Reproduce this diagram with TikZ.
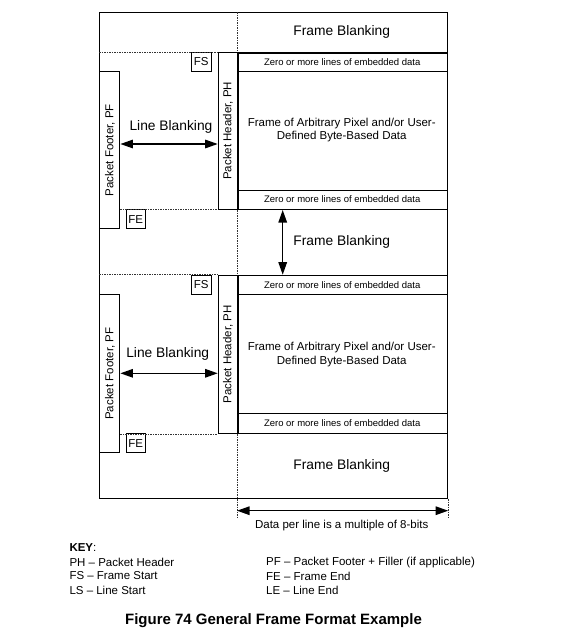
\documentclass[tikz,border=0pt]{standalone}
\usepackage{fontspec}
\setmainfont{Liberation Sans}
\usetikzlibrary{arrows.meta}
\begin{document}
\begin{tikzpicture}[x=1pt,y=-1pt,
  box/.style={draw, rectangle, inner sep=0pt, anchor=north west, line width=0.9pt},
  thickbox/.style={box, line width=1.5pt},
  embbox/.style={box, line width=0.7pt, font=\fontsize{9.5}{11}\selectfont},
  tagbox/.style={box, font=\fontsize{11.5}{13}\selectfont},
  big/.style={font=\fontsize{13.8}{16}\selectfont, inner sep=0pt},
  mid/.style={font=\fontsize{11.5}{13.4}\selectfont, align=center, inner sep=0pt},
  vlabel/.style={rotate=90, font=\fontsize{11.5}{13}\selectfont, inner sep=0pt},
  dashline/.style={line width=0.6pt, dash pattern=on 1.5pt off 1pt, black!80},
  dimarrow/.style={line width=1.3pt, {Triangle[length=12.5pt,width=8.5pt]}-{Triangle[length=12.5pt,width=8.5pt]}},
  keytext/.style={anchor=west, font=\fontsize{11.5}{13}\selectfont, inner sep=0pt}
]
\useasboundingbox (0,0) rectangle (572,638);

% outer frame
\node[box, minimum width=348pt, minimum height=486pt] (outer) at (99.3,12.3) {};
\node[big] (fbtop) at (341.7,32) {Frame Blanking};

% ---------- block 1 ----------
\node[embbox, minimum width=209.7pt, minimum height=19pt] (emb1a) at (237,52) {Zero or more lines of embedded data};
\node[embbox, minimum width=209.7pt, minimum height=19pt] (emb1b) at (237,189.5) {Zero or more lines of embedded data};
\node[thickbox, minimum width=209.7pt, minimum height=156.5pt] (data1) at (237,52) {};
\node[mid] (txt1) at (341.7,130.3) {Frame of Arbitrary Pixel and/or User-\\Defined Byte-Based Data};
\node[box, line width=1.1pt, minimum width=19.3pt, minimum height=156.5pt] (ph1) at (217.7,52) {};
\node[vlabel] (ph1t) at (ph1.center) {Packet Header, PH};
\node[tagbox, minimum width=19.7pt, minimum height=19pt] (fs1) at (191,52) {FS};
\node[box, line width=1.1pt, minimum width=20pt, minimum height=157.3pt] (pf1) at (99.3,71) {};
\node[vlabel] (pf1t) at (pf1.center) {Packet Footer, PF};
\node[tagbox, minimum width=19.3pt, minimum height=19.3pt] (fe1) at (125.7,209) {FE};
\node[big] (lb1) at (171,127.2) {Line Blanking};
\coordinate (lb1y) at (0,144);
\draw[dimarrow] (pf1.east |- lb1y) -- (ph1.west |- lb1y);
\draw[dashline] (outer.west |- ph1.north west) -- (ph1.north west);
\draw[dashline] (pf1.east |- ph1.south west) -- (ph1.south west);

% ---------- middle frame blanking ----------
\node[big] (fbmid) at (341.7,242.2) {Frame Blanking};

% ---------- block 2 ----------
\node[embbox, minimum width=209.7pt, minimum height=19.3pt] (emb2a) at (237,274.7) {Zero or more lines of embedded data};
\node[embbox, minimum width=209.7pt, minimum height=19.3pt] (emb2b) at (237,413.3) {Zero or more lines of embedded data};
\node[thickbox, minimum width=209.7pt, minimum height=158pt] (data2) at (237,274.7) {};
\node[mid] (txt2) at (341.7,354.5) {Frame of Arbitrary Pixel and/or User-\\Defined Byte-Based Data};
\node[box, line width=1.1pt, minimum width=19.3pt, minimum height=158pt] (ph2) at (217.7,274.7) {};
\node[vlabel] (ph2t) at (ph2.center) {Packet Header, PH};
\node[tagbox, minimum width=19.7pt, minimum height=19.3pt] (fs2) at (191,274.7) {FS};
\node[box, line width=1.1pt, minimum width=20pt, minimum height=158.3pt] (pf2) at (99.3,294) {};
\node[vlabel] (pf2t) at (pf2.center) {Packet Footer, PF};
\node[tagbox, minimum width=19.3pt, minimum height=19.3pt] (fe2) at (125.7,433) {FE};
\node[big] (lb2) at (167.7,353.8) {Line Blanking};
\coordinate (lb2y) at (0,373.3);
\draw[dimarrow] (pf2.east |- lb2y) -- (ph2.west |- lb2y);
\draw[dashline] (outer.west |- ph2.north west) -- (ph2.north west);
\draw[dashline] (pf2.east |- ph2.south west) -- (ph2.south west);

% vertical frame blanking arrow
\coordinate (va) at (282.7,0);
\draw[dimarrow] (va |- data1.south) -- (va |- data2.north);

% ---------- bottom frame blanking ----------
\node[big] (fbbot) at (341.7,465.5) {Frame Blanking};

% vertical dashed guides
\coordinate (dimbot) at (0,518);
\draw[dashline] (data1.north west |- outer.north) -- (data1.north west);
\draw[dashline] (data1.south west) -- (data2.north west);
\draw[dashline] (data2.south west) -- (data2.south west |- dimbot);
\draw[dashline] (outer.south east) -- (outer.south east |- dimbot);

% width dimension
\coordinate (dimy) at (0,510.7);
\draw[dimarrow] (data2.south west |- dimy) -- (outer.south east |- dimy);
\node[mid] (dimtxt) at (341.7,525.5) {Data per line is a multiple of 8-bits};

% ---------- key ----------
\node[keytext] (key) at (69.3,547.5) {\textbf{KEY}:};
\node[keytext] (k1) at (69.3,562.5) {PH – Packet Header};
\node[keytext] (k2) at (69.3,576) {FS – Frame Start};
\node[keytext] (k3) at (69.3,590.3) {LS – Line Start};
\node[keytext] (k4) at (266,562.5) {PF – Packet Footer + Filler (if applicable)};
\node[keytext] (k5) at (266,576) {FE – Frame End};
\node[keytext] (k6) at (266,590.3) {LE – Line End};

\node[font=\bfseries\fontsize{15}{17}\selectfont, inner sep=0pt] (caption) at (273.5,621) {Figure 74 General Frame Format Example};
\end{tikzpicture}
\end{document}
